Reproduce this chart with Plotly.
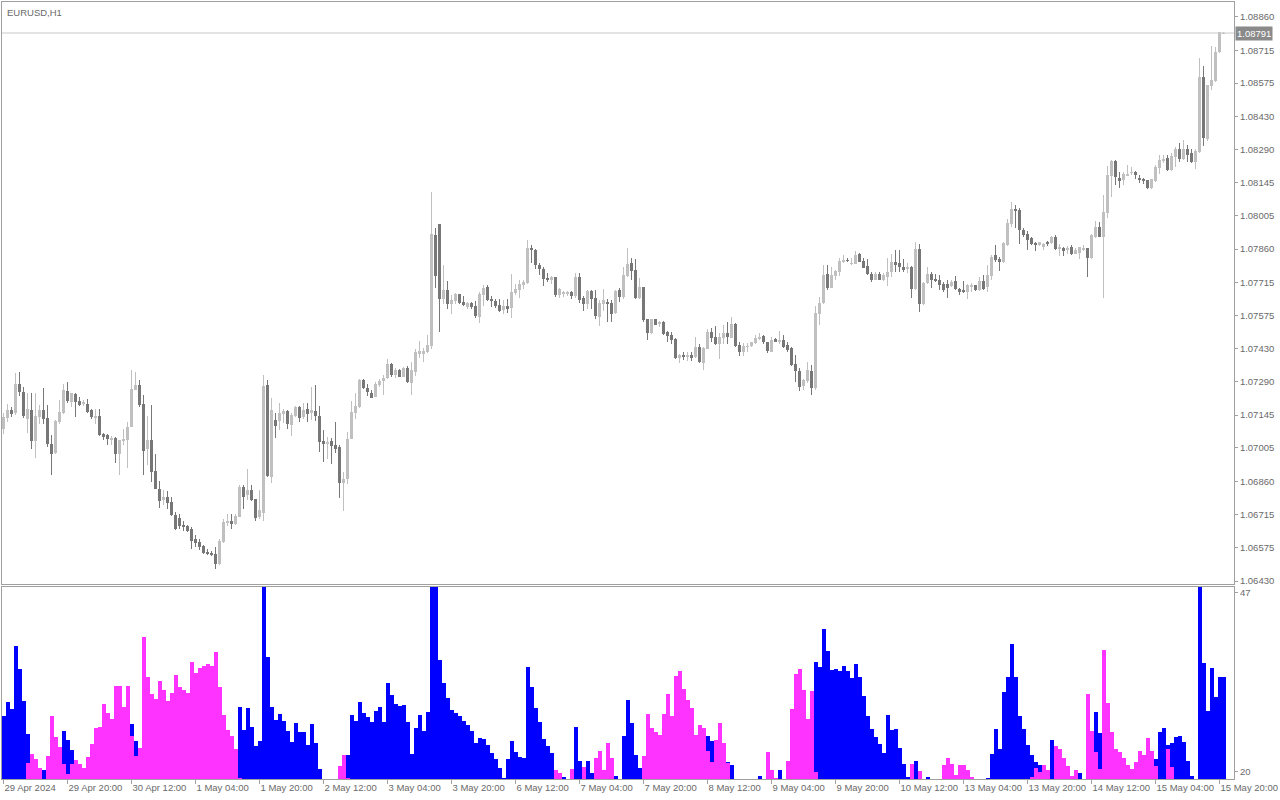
import plotly.graph_objects as go

symbol_label = "EURUSD,H1"
last_price = 1.08791

tick_idx = [0, 16, 32, 48, 64, 80, 96, 112, 128, 144, 160, 176, 192, 208, 224, 240, 256, 272, 288, 304]
tick_labels = ["29 Apr 2024", "29 Apr 20:00", "30 Apr 12:00", "1 May 04:00", "1 May 20:00",
               "2 May 12:00", "3 May 04:00", "3 May 20:00", "6 May 12:00", "7 May 04:00",
               "7 May 20:00", "8 May 12:00", "9 May 04:00", "9 May 20:00", "10 May 12:00",
               "13 May 04:00", "13 May 20:00", "14 May 12:00", "15 May 04:00", "15 May 20:00"]

price_ticks = [1.08860, 1.08715, 1.08575, 1.08430, 1.08290, 1.08145, 1.08005, 1.07860, 1.07715,
               1.07575, 1.07430, 1.07290, 1.07145, 1.07005, 1.06860, 1.06715, 1.06575, 1.06430]
ind_ticks = [20, 47]

open_ = [
 1.07087, 1.07134, 1.07166, 1.07152, 1.07278, 1.07245, 1.07129, 1.07166, 1.07034, 1.07137,
 1.07166, 1.07131, 1.07022, 1.06980, 1.07114, 1.07152, 1.07248, 1.07202, 1.07237, 1.07205,
 1.07192, 1.07193, 1.07166, 1.07134, 1.07140, 1.07062, 1.07058, 1.07041, 1.07044, 1.06977,
 1.07034, 1.07036, 1.07094, 1.07255, 1.07274, 1.07193, 1.06998, 1.07037, 1.06903, 1.06825,
 1.06778, 1.06791, 1.06769, 1.06713, 1.06701, 1.06670, 1.06665, 1.06652, 1.06609, 1.06598,
 1.06579, 1.06557, 1.06550, 1.06545, 1.06503, 1.06598, 1.06684, 1.06688, 1.06676, 1.06706,
 1.06835, 1.06801, 1.06821, 1.06782, 1.06704, 1.06725, 1.07275, 1.06879, 1.07123, 1.07119,
 1.07150, 1.07162, 1.07103, 1.07142, 1.07179, 1.07136, 1.07169, 1.07155, 1.07162, 1.07143,
 1.07032, 1.07021, 1.07032, 1.07015, 1.07006, 1.06852, 1.06868, 1.07041, 1.07153, 1.07181,
 1.07296, 1.07263, 1.07240, 1.07224, 1.07273, 1.07291, 1.07303, 1.07365, 1.07317, 1.07339,
 1.07310, 1.07349, 1.07282, 1.07330, 1.07406, 1.07412, 1.07416, 1.07442, 1.07920, 1.07968,
 1.07644, 1.07682, 1.07622, 1.07636, 1.07665, 1.07632, 1.07609, 1.07628, 1.07613, 1.07567,
 1.07662, 1.07695, 1.07644, 1.07635, 1.07618, 1.07596, 1.07613, 1.07606, 1.07671, 1.07684,
 1.07704, 1.07713, 1.07865, 1.07855, 1.07790, 1.07776, 1.07737, 1.07728, 1.07740, 1.07662,
 1.07666, 1.07666, 1.07675, 1.07657, 1.07740, 1.07650, 1.07623, 1.07679, 1.07649, 1.07568,
 1.07623, 1.07632, 1.07629, 1.07585, 1.07683, 1.07653, 1.07745, 1.07800, 1.07770, 1.07650,
 1.07696, 1.07558, 1.07499, 1.07558, 1.07541, 1.07544, 1.07502, 1.07490, 1.07473, 1.07392,
 1.07403, 1.07399, 1.07403, 1.07395, 1.07438, 1.07370, 1.07431, 1.07503, 1.07481, 1.07452,
 1.07478, 1.07498, 1.07478, 1.07537, 1.07446, 1.07418, 1.07439, 1.07442, 1.07456, 1.07475,
 1.07485, 1.07459, 1.07418, 1.07471, 1.07461, 1.07468, 1.07446, 1.07435, 1.07364, 1.07336,
 1.07271, 1.07292, 1.07334, 1.07262, 1.07580, 1.07626, 1.07753, 1.07693, 1.07745, 1.07760,
 1.07803, 1.07813, 1.07796, 1.07797, 1.07839, 1.07809, 1.07787, 1.07751, 1.07728, 1.07751,
 1.07728, 1.07741, 1.07760, 1.07806, 1.07799, 1.07784, 1.07774, 1.07784, 1.07688, 1.07861,
 1.07624, 1.07712, 1.07751, 1.07731, 1.07725, 1.07711, 1.07711, 1.07701, 1.07722, 1.07690,
 1.07681, 1.07677, 1.07698, 1.07704, 1.07683, 1.07722, 1.07697, 1.07745, 1.07834, 1.07817,
 1.07805, 1.07877, 1.07968, 1.08033, 1.08028, 1.07942, 1.07927, 1.07909, 1.07887, 1.07877,
 1.07867, 1.07891, 1.07887, 1.07912, 1.07863, 1.07866, 1.07855, 1.07870, 1.07841, 1.07845,
 1.07860, 1.07864, 1.07821, 1.07914, 1.07955, 1.07912, 1.08015, 1.08175, 1.08238, 1.08166,
 1.08156, 1.08178, 1.08188, 1.08192, 1.08166, 1.08164, 1.08158, 1.08123, 1.08154, 1.08210,
 1.08238, 1.08253, 1.08200, 1.08257, 1.08293, 1.08247, 1.08290, 1.08272, 1.08236, 1.08279,
 1.08603, 1.08336, 1.08564, 1.08584, 1.08708, 1.08790]

high = [
 1.07152, 1.07192, 1.07180, 1.07327, 1.07330, 1.07267, 1.07242, 1.07241, 1.07238, 1.07188,
 1.07261, 1.07188, 1.07058, 1.07123, 1.07209, 1.07278, 1.07287, 1.07242, 1.07238, 1.07224,
 1.07209, 1.07216, 1.07173, 1.07169, 1.07169, 1.07068, 1.07062, 1.07054, 1.07051, 1.07039,
 1.07087, 1.07116, 1.07339, 1.07332, 1.07296, 1.07231, 1.07142, 1.07188, 1.06977, 1.06860,
 1.06820, 1.06817, 1.06792, 1.06727, 1.06717, 1.06687, 1.06673, 1.06664, 1.06627, 1.06612,
 1.06583, 1.06566, 1.06559, 1.06575, 1.06612, 1.06696, 1.06720, 1.06720, 1.06720, 1.06843,
 1.06845, 1.06912, 1.06843, 1.06785, 1.06821, 1.07318, 1.07296, 1.07220, 1.07152, 1.07195,
 1.07173, 1.07166, 1.07152, 1.07185, 1.07185, 1.07195, 1.07195, 1.07267, 1.07274, 1.07183,
 1.07080, 1.07051, 1.07048, 1.07113, 1.07015, 1.06900, 1.07070, 1.07205, 1.07238, 1.07299,
 1.07299, 1.07277, 1.07253, 1.07289, 1.07302, 1.07317, 1.07387, 1.07368, 1.07346, 1.07343,
 1.07353, 1.07358, 1.07373, 1.07430, 1.07466, 1.07433, 1.07488, 1.08107, 1.07952, 1.07968,
 1.07790, 1.07721, 1.07664, 1.07672, 1.07668, 1.07656, 1.07632, 1.07632, 1.07635, 1.07675,
 1.07704, 1.07704, 1.07656, 1.07646, 1.07644, 1.07642, 1.07646, 1.07752, 1.07708, 1.07728,
 1.07728, 1.07898, 1.07877, 1.07862, 1.07802, 1.07783, 1.07755, 1.07745, 1.07740, 1.07691,
 1.07679, 1.07679, 1.07679, 1.07755, 1.07755, 1.07657, 1.07683, 1.07683, 1.07683, 1.07640,
 1.07688, 1.07643, 1.07640, 1.07683, 1.07693, 1.07783, 1.07865, 1.07820, 1.07817, 1.07737,
 1.07696, 1.07561, 1.07561, 1.07561, 1.07550, 1.07550, 1.07506, 1.07503, 1.07475, 1.07410,
 1.07415, 1.07415, 1.07418, 1.07481, 1.07449, 1.07439, 1.07516, 1.07521, 1.07528, 1.07497,
 1.07533, 1.07544, 1.07567, 1.07540, 1.07458, 1.07456, 1.07456, 1.07461, 1.07490, 1.07497,
 1.07490, 1.07461, 1.07482, 1.07475, 1.07507, 1.07490, 1.07461, 1.07438, 1.07403, 1.07346,
 1.07300, 1.07374, 1.07360, 1.07616, 1.07655, 1.07791, 1.07791, 1.07784, 1.07770, 1.07820,
 1.07835, 1.07820, 1.07820, 1.07852, 1.07842, 1.07820, 1.07817, 1.07763, 1.07763, 1.07760,
 1.07755, 1.07823, 1.07837, 1.07856, 1.07856, 1.07817, 1.07799, 1.07789, 1.07892, 1.07881,
 1.07719, 1.07784, 1.07760, 1.07751, 1.07748, 1.07719, 1.07727, 1.07726, 1.07743, 1.07693,
 1.07722, 1.07711, 1.07716, 1.07707, 1.07740, 1.07747, 1.07791, 1.07834, 1.07877, 1.07827,
 1.07891, 1.07988, 1.08061, 1.08050, 1.08035, 1.07949, 1.07937, 1.07913, 1.07891, 1.07891,
 1.07887, 1.07896, 1.07917, 1.07920, 1.07884, 1.07870, 1.07874, 1.07877, 1.07863, 1.07870,
 1.07876, 1.07864, 1.07926, 1.07979, 1.07976, 1.08094, 1.08218, 1.08246, 1.08243, 1.08192,
 1.08192, 1.08221, 1.08214, 1.08195, 1.08178, 1.08166, 1.08159, 1.08164, 1.08221, 1.08264,
 1.08267, 1.08264, 1.08272, 1.08300, 1.08315, 1.08332, 1.08310, 1.08293, 1.08293, 1.08685,
 1.08650, 1.08567, 1.08737, 1.08732, 1.08797, 1.08797]

low = [
 1.07065, 1.07116, 1.07137, 1.07144, 1.07226, 1.07134, 1.07068, 1.06998, 1.06960, 1.07108,
 1.07106, 1.07008, 1.06888, 1.06976, 1.07108, 1.07149, 1.07199, 1.07180, 1.07137, 1.07186,
 1.07185, 1.07152, 1.07126, 1.07108, 1.07054, 1.07036, 1.07015, 1.07015, 1.06938, 1.06888,
 1.07015, 1.06917, 1.07094, 1.07252, 1.07180, 1.06886, 1.06929, 1.06857, 1.06825, 1.06745,
 1.06756, 1.06742, 1.06710, 1.06648, 1.06655, 1.06645, 1.06641, 1.06569, 1.06576, 1.06562,
 1.06545, 1.06540, 1.06537, 1.06483, 1.06500, 1.06594, 1.06665, 1.06655, 1.06673, 1.06704,
 1.06739, 1.06778, 1.06773, 1.06690, 1.06699, 1.06687, 1.06877, 1.06854, 1.07047, 1.07080,
 1.07109, 1.07087, 1.07055, 1.07137, 1.07116, 1.07130, 1.07113, 1.07123, 1.07119, 1.06986,
 1.06943, 1.06957, 1.06936, 1.06983, 1.06788, 1.06731, 1.06849, 1.07041, 1.07127, 1.07176,
 1.07257, 1.07228, 1.07217, 1.07222, 1.07267, 1.07231, 1.07302, 1.07309, 1.07306, 1.07307,
 1.07307, 1.07281, 1.07232, 1.07312, 1.07390, 1.07373, 1.07413, 1.07428, 1.07692, 1.07502,
 1.07622, 1.07600, 1.07579, 1.07625, 1.07622, 1.07615, 1.07600, 1.07600, 1.07563, 1.07543,
 1.07615, 1.07635, 1.07610, 1.07606, 1.07589, 1.07579, 1.07586, 1.07563, 1.07661, 1.07649,
 1.07690, 1.07710, 1.07798, 1.07776, 1.07747, 1.07701, 1.07719, 1.07711, 1.07655, 1.07650,
 1.07655, 1.07659, 1.07647, 1.07650, 1.07626, 1.07593, 1.07604, 1.07604, 1.07558, 1.07529,
 1.07593, 1.07547, 1.07544, 1.07581, 1.07633, 1.07647, 1.07741, 1.07727, 1.07647, 1.07645,
 1.07547, 1.07470, 1.07495, 1.07532, 1.07525, 1.07489, 1.07460, 1.07453, 1.07385, 1.07370,
 1.07382, 1.07377, 1.07377, 1.07392, 1.07370, 1.07341, 1.07428, 1.07461, 1.07446, 1.07386,
 1.07452, 1.07452, 1.07475, 1.07438, 1.07399, 1.07399, 1.07418, 1.07438, 1.07452, 1.07468,
 1.07452, 1.07413, 1.07416, 1.07458, 1.07449, 1.07435, 1.07418, 1.07357, 1.07288, 1.07248,
 1.07251, 1.07281, 1.07230, 1.07255, 1.07532, 1.07623, 1.07683, 1.07691, 1.07727, 1.07745,
 1.07799, 1.07806, 1.07791, 1.07794, 1.07803, 1.07777, 1.07748, 1.07719, 1.07725, 1.07725,
 1.07722, 1.07702, 1.07741, 1.07763, 1.07763, 1.07760, 1.07755, 1.07650, 1.07683, 1.07590,
 1.07619, 1.07708, 1.07691, 1.07719, 1.07683, 1.07676, 1.07650, 1.07697, 1.07683, 1.07661,
 1.07673, 1.07647, 1.07675, 1.07678, 1.07680, 1.07683, 1.07675, 1.07726, 1.07805, 1.07765,
 1.07802, 1.07874, 1.07956, 1.07949, 1.07884, 1.07913, 1.07855, 1.07877, 1.07851, 1.07874,
 1.07855, 1.07874, 1.07881, 1.07855, 1.07829, 1.07829, 1.07841, 1.07834, 1.07837, 1.07817,
 1.07850, 1.07739, 1.07818, 1.07907, 1.07910, 1.07648, 1.07994, 1.08084, 1.08135, 1.08123,
 1.08138, 1.08175, 1.08178, 1.08164, 1.08146, 1.08142, 1.08120, 1.08118, 1.08149, 1.08185,
 1.08233, 1.08195, 1.08197, 1.08214, 1.08236, 1.08243, 1.08236, 1.08233, 1.08207, 1.08276,
 1.08305, 1.08325, 1.08545, 1.08581, 1.08704, 1.08786]

close = [
 1.07137, 1.07166, 1.07149, 1.07278, 1.07245, 1.07140, 1.07170, 1.07034, 1.07140, 1.07166,
 1.07129, 1.07021, 1.06977, 1.07120, 1.07157, 1.07252, 1.07205, 1.07241, 1.07202, 1.07189,
 1.07202, 1.07159, 1.07137, 1.07140, 1.07058, 1.07054, 1.07041, 1.07046, 1.06977, 1.07036,
 1.07041, 1.07094, 1.07257, 1.07274, 1.07188, 1.06989, 1.07037, 1.06900, 1.06825, 1.06775,
 1.06791, 1.06766, 1.06713, 1.06652, 1.06665, 1.06661, 1.06644, 1.06601, 1.06593, 1.06575,
 1.06550, 1.06546, 1.06540, 1.06503, 1.06601, 1.06683, 1.06688, 1.06676, 1.06709, 1.06835,
 1.06794, 1.06821, 1.06778, 1.06701, 1.06735, 1.07270, 1.06883, 1.07167, 1.07098, 1.07152,
 1.07162, 1.07106, 1.07145, 1.07179, 1.07133, 1.07166, 1.07150, 1.07166, 1.07142, 1.07029,
 1.07019, 1.07028, 1.07011, 1.06998, 1.06852, 1.06871, 1.07041, 1.07159, 1.07183, 1.07296,
 1.07260, 1.07245, 1.07219, 1.07277, 1.07291, 1.07306, 1.07365, 1.07317, 1.07339, 1.07310,
 1.07346, 1.07289, 1.07337, 1.07416, 1.07419, 1.07420, 1.07445, 1.07927, 1.07744, 1.07644,
 1.07682, 1.07622, 1.07639, 1.07665, 1.07628, 1.07618, 1.07628, 1.07609, 1.07571, 1.07665,
 1.07692, 1.07639, 1.07635, 1.07615, 1.07593, 1.07613, 1.07600, 1.07674, 1.07687, 1.07708,
 1.07718, 1.07865, 1.07854, 1.07790, 1.07773, 1.07730, 1.07728, 1.07740, 1.07662, 1.07686,
 1.07675, 1.07675, 1.07657, 1.07740, 1.07642, 1.07624, 1.07679, 1.07645, 1.07573, 1.07629,
 1.07640, 1.07623, 1.07580, 1.07679, 1.07653, 1.07748, 1.07797, 1.07765, 1.07650, 1.07696,
 1.07555, 1.07499, 1.07557, 1.07535, 1.07544, 1.07496, 1.07486, 1.07467, 1.07391, 1.07403,
 1.07399, 1.07403, 1.07395, 1.07438, 1.07374, 1.07435, 1.07503, 1.07478, 1.07449, 1.07481,
 1.07500, 1.07481, 1.07537, 1.07444, 1.07416, 1.07442, 1.07442, 1.07458, 1.07478, 1.07481,
 1.07458, 1.07420, 1.07468, 1.07461, 1.07468, 1.07439, 1.07426, 1.07360, 1.07336, 1.07266,
 1.07295, 1.07338, 1.07262, 1.07583, 1.07626, 1.07748, 1.07693, 1.07748, 1.07765, 1.07809,
 1.07814, 1.07812, 1.07799, 1.07835, 1.07806, 1.07780, 1.07751, 1.07728, 1.07751, 1.07728,
 1.07748, 1.07763, 1.07806, 1.07791, 1.07781, 1.07770, 1.07784, 1.07688, 1.07861, 1.07624,
 1.07712, 1.07751, 1.07728, 1.07722, 1.07705, 1.07683, 1.07693, 1.07719, 1.07687, 1.07677,
 1.07677, 1.07704, 1.07704, 1.07683, 1.07722, 1.07687, 1.07747, 1.07827, 1.07812, 1.07805,
 1.07887, 1.07973, 1.08033, 1.08025, 1.07942, 1.07920, 1.07901, 1.07881, 1.07877, 1.07889,
 1.07881, 1.07881, 1.07912, 1.07860, 1.07866, 1.07853, 1.07866, 1.07838, 1.07855, 1.07867,
 1.07864, 1.07821, 1.07922, 1.07955, 1.07912, 1.08022, 1.08178, 1.08238, 1.08171, 1.08154,
 1.08182, 1.08185, 1.08192, 1.08178, 1.08159, 1.08154, 1.08123, 1.08161, 1.08214, 1.08243,
 1.08250, 1.08200, 1.08260, 1.08293, 1.08247, 1.08290, 1.08264, 1.08236, 1.08282, 1.08603,
 1.08339, 1.08567, 1.08588, 1.08711, 1.08794, 1.08791]

ind_blue = [
 28.5, 30.6, 29.5, 39.0, 35.5, 30.7, 25.7, 0, 0, 0,
 20.3, 0, 0, 0, 0, 26.2, 24.8, 23.3, 0, 0,
 0, 0, 0, 0, 0, 0, 0, 0, 0, 0,
 0, 0, 27.2, 24.7, 0, 0, 0, 0, 0, 0,
 0, 0, 0, 0, 0, 0, 0, 0, 0, 0,
 0, 0, 0, 0, 0, 0, 0, 0, 0, 29.8,
 26.4, 29.6, 26.8, 23.9, 24.7, 49, 37.3, 29.8, 27.8, 28.7,
 27.7, 26.2, 24.5, 27.4, 26.0, 26.0, 24.1, 27.2, 24.4, 20.5,
 0, 0, 0, 0, 0, 0, 22.6, 28.6, 27.7, 30.5,
 28.9, 28.3, 27.6, 29.2, 29.8, 27.6, 33.4, 31.6, 30.3, 29.9,
 30.1, 27.5, 22.7, 26.6, 28.6, 26.2, 29.0, 49, 49, 36.9,
 33.4, 31.2, 29.3, 28.9, 28.4, 27.7, 27.1, 26.2, 24.4, 25.1,
 25.0, 24.1, 22.9, 22.0, 20.6, 19.1, 22.0, 24.7, 23.0, 22.3,
 22.1, 35.8, 32.8, 29.6, 27.5, 25.0, 23.9, 22.9, 0, 0,
 19.2, 0, 0, 26.8, 21.7, 0, 21.7, 19.8, 0, 0,
 0, 0, 0, 19.4, 0, 25.4, 30.9, 27.4, 22.6, 20.6,
 0, 0, 0, 0, 0, 0, 0, 0, 0, 0,
 0, 0, 0, 0, 0, 0, 25.4, 24.7, 0, 0,
 0, 21.5, 21.1, 0, 0, 0, 0, 0, 0, 19.4,
 0, 0, 0, 0, 20.3, 0, 0, 0, 0, 0,
 0, 0, 0, 36.6, 35.8, 41.6, 38.2, 35.4, 35.5, 35.2,
 36.0, 35.2, 34.2, 36.3, 34.3, 31.5, 28.4, 26.5, 25.3, 24.2,
 22.9, 28.6, 26.3, 26.5, 23.6, 21.2, 19.2, 0, 21.7, 0,
 0, 19.2, 0, 0, 0, 0, 0, 0, 0, 0,
 0, 0, 0, 0, 0, 0, 19.1, 22.7, 26.5, 23.5,
 32.1, 34.3, 39.3, 34.3, 28.4, 26.5, 24.1, 22.6, 21.5, 21.1,
 0, 0, 24.8, 0, 0, 0, 0, 0, 0, 19.8,
 0, 0, 0, 29.0, 25.9, 0, 0, 0, 0, 0,
 0, 0, 0, 0, 0, 0, 0, 0, 22.0, 26.0,
 26.6, 24.1, 24.4, 25.3, 25.4, 24.5, 21.7, 19.4, 0, 49,
 36.4, 29.2, 35.7, 31.3, 34.3, 34.3]

ind_magenta = [
 0, 0, 0, 0, 0, 0, 21.4, 22.7, 22.0, 20.6,
 0, 22.4, 28.5, 25.3, 23.7, 21.2, 19.7, 21.2, 21.8, 21.2,
 20.6, 22.3, 24.2, 26.6, 26.8, 30.3, 28.9, 28.0, 33.0, 32.9,
 29.8, 33.0, 25.4, 22.4, 23.6, 40.3, 34.3, 31.8, 31.0, 33.7,
 32.4, 30.7, 31.9, 34.6, 32.8, 32.4, 31.9, 36.6, 34.9, 35.7,
 36.0, 36.3, 36.0, 38.1, 32.8, 28.6, 26.3, 25.4, 23.4, 19.1,
 0, 0, 0, 0, 0, 0, 0, 0, 0, 0,
 0, 0, 0, 0, 0, 0, 0, 0, 0, 0,
 0, 0, 0, 0, 20.9, 22.6, 19.1, 0, 0, 0,
 0, 0, 0, 0, 0, 0, 0, 0, 0, 0,
 0, 0, 0, 0, 0, 0, 0, 0, 0, 0,
 0, 0, 0, 0, 0, 0, 0, 0, 0, 0,
 0, 0, 0, 0, 0, 0, 0, 0, 0, 0,
 0, 0, 0, 0, 0, 0, 0, 0, 20.3, 19.8,
 0, 0, 20.5, 0, 0, 20.8, 0, 0, 22.1, 23.2,
 20.3, 24.4, 22.1, 0, 0, 0, 0, 0, 0, 0,
 22.4, 28.7, 26.6, 26.0, 25.6, 28.7, 31.8, 28.4, 34.5, 35.2,
 32.5, 30.9, 29.6, 25.6, 27.1, 26.6, 23.2, 21.5, 24.8, 27.4,
 24.4, 21.4, 0, 0, 0, 0, 0, 0, 0, 0,
 0, 23.0, 20.3, 19.1, 0, 0, 21.7, 29.5, 34.8, 35.5,
 32.4, 28.0, 32.2, 20.0, 0, 0, 0, 0, 0, 0,
 0, 0, 0, 0, 0, 0, 0, 0, 0, 0,
 0, 0, 0, 0, 0, 0, 0, 21.2, 0, 20.1,
 0, 0, 0, 0, 0, 21.1, 22.1, 21.2, 19.5, 21.1,
 21.1, 20.3, 19.2, 0, 0, 0, 0, 0, 0, 0,
 0, 0, 0, 0, 0, 0, 0, 19.2, 20.6, 20.0,
 21.1, 20.3, 0, 23.9, 23.5, 22.1, 20.9, 19.4, 20.3, 0,
 0, 31.8, 26.2, 23.0, 20.5, 38.4, 30.4, 26.0, 23.5, 23.0,
 22.1, 21.1, 20.5, 21.5, 23.2, 22.6, 25.1, 23.2, 20.9, 0,
 0, 23.5, 20.8, 0, 0, 0, 0, 0, 0, 0,
 0, 0, 0, 0, 0, 0]

# ---------------- styling ----------------
LIGHT = "#c0c0c0"
DARK = "#777777"
BLUE = "#0000ff"
MAGENTA = "#ff33ff"
AXIS = "#a0a0a0"
TXT = "#6a6a6a"
FONT = "Liberation Sans"
FS = 9.5

n = len(close)
xs = list(range(n))
cols = [LIGHT if c >= o else DARK for o, c in zip(open_, close)]
wick_len = [h - l for h, l in zip(high, low)]
body_base = [min(o, c) for o, c in zip(open_, close)]
body_len = [max(abs(c - o), 0.000006) for o, c in zip(open_, close)]

fig = go.Figure()
fig.add_trace(go.Bar(x=xs, y=wick_len, base=low, width=0.25,
                     marker=dict(color=cols, line=dict(width=0)),
                     xaxis="x", yaxis="y", hoverinfo="skip"))
fig.add_trace(go.Bar(x=xs, y=body_len, base=body_base, width=0.75,
                     marker=dict(color=cols, line=dict(width=0)),
                     xaxis="x", yaxis="y", hoverinfo="skip"))
fig.add_trace(go.Bar(x=xs, y=ind_blue, width=1.0,
                     marker=dict(color=BLUE, line=dict(width=0)),
                     xaxis="x2", yaxis="y2", hoverinfo="skip"))
fig.add_trace(go.Bar(x=xs, y=ind_magenta, width=1.0,
                     marker=dict(color=MAGENTA, line=dict(width=0)),
                     xaxis="x2", yaxis="y2", hoverinfo="skip"))

H_TOT = 800 - 2 - 21
top_dom = [(800 - 21 - 584) / H_TOT, 1.0]
bot_dom = [0.0, (800 - 21 - 587) / H_TOT]
xr = [-0.375, 307.625]

common_axis = dict(showgrid=False, zeroline=False, showline=True, linecolor=AXIS,
                   linewidth=1, mirror=True, tickcolor=AXIS, automargin=False,
                   tickangle=0, tickfont=dict(family=FONT, size=FS, color=TXT))

fig.update_layout(
    width=1280, height=800,
    margin=dict(l=2, r=46, t=2, b=21, pad=0, autoexpand=False),
    paper_bgcolor="white", plot_bgcolor="white",
    showlegend=False, barmode="overlay", bargap=0, bargroupgap=0,
    xaxis=dict(domain=[0, 1], range=xr, anchor="y", showticklabels=False, ticks="",
               **common_axis),
    yaxis=dict(domain=top_dom, range=[1.064171, 1.089246], side="right", anchor="x",
               tickvals=price_ticks, ticktext=[f"{v:.5f}" for v in price_ticks],
               ticks="outside", ticklen=3, **common_axis),
    xaxis2=dict(domain=[0, 1], range=xr, anchor="y2", tickvals=tick_idx,
                ticktext=tick_labels, ticks="outside", ticklen=4,
                ticklabelposition="outside right", ticklabeloverflow="allow",
                **common_axis),
    yaxis2=dict(domain=bot_dom, range=[18.94, 47.9], side="right", anchor="x2",
                tickvals=ind_ticks, ticktext=[str(v) for v in ind_ticks],
                ticks="outside", ticklen=3, **common_axis),
)

fig.add_shape(type="line", xref="x domain", yref="y", x0=0, x1=1,
              y0=last_price, y1=last_price, line=dict(color="#c8c8c8", width=1))

fig.add_annotation(xref="paper", yref="paper", x=0, y=1, xanchor="left", yanchor="top",
                   xshift=3, yshift=-3, text=symbol_label, showarrow=False,
                   font=dict(family=FONT, size=FS, color=TXT))
fig.add_annotation(xref="paper", yref="y", x=1, y=last_price, xanchor="left", yanchor="middle",
                   xshift=1, text=f"{last_price:.5f}", showarrow=False, bgcolor="#8a8a8a",
                   borderpad=1, font=dict(family=FONT, size=FS, color="white"))

fig.write_html("out.html", config={"displayModeBar": False},
               post_script="document.body.style.margin='0';document.body.style.overflow='hidden';")
